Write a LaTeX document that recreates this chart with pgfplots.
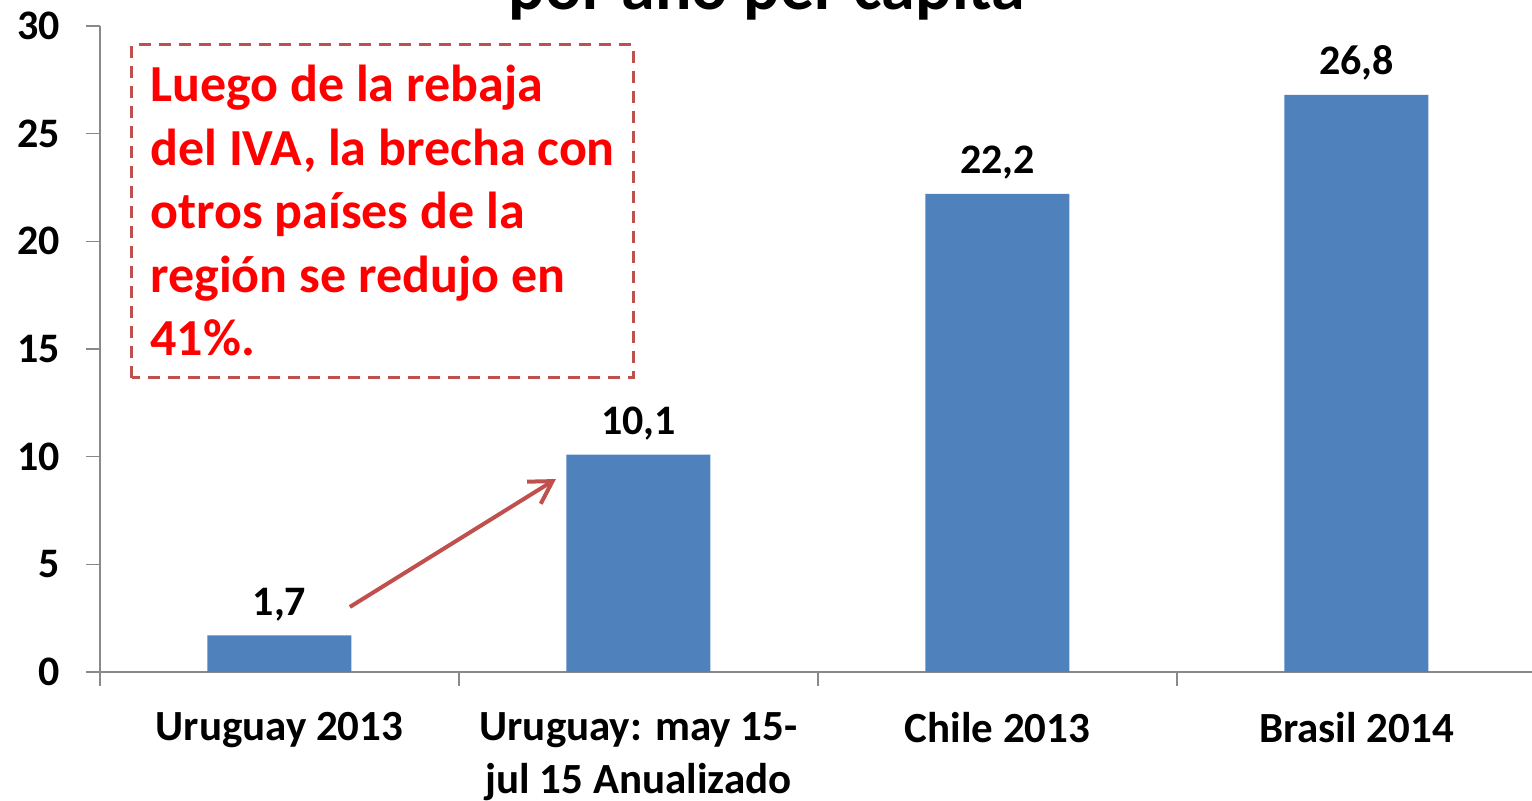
\documentclass[border=0pt]{standalone}
\usepackage{pgfplots}
\pgfplotsset{compat=1.18}
\usepackage{fontspec}
\setmainfont{Carlito}
\usetikzlibrary{arrows.meta}
\definecolor{barblue}{HTML}{4F81BD}
\definecolor{boxred}{HTML}{C0504D}
\definecolor{axgray}{HTML}{898989}
\begin{document}
\begin{tikzpicture}
\begin{axis}[
  at={(0pt,0pt)}, anchor=south west, scale only axis,
  width=716pt, height=323pt,
  xmin=-0.5, xmax=3.489, ymin=0, ymax=30,
  axis x line*=bottom, axis y line*=left,
  axis line style={draw=axgray, line width=0.75pt},
  tick align=outside,
  major tick length=7pt, minor tick length=7pt,
  tick style={draw=axgray, line width=0.75pt},
  xtick={0,1,2,3},
  minor xtick={-0.5,0.5,1.5,2.5},
  major x tick style={draw=none},
  xticklabels={{Uruguay 2013},{Uruguay: may 15-\\jul 15 Anualizado},{Chile 2013},{Brasil 2014}},
  xticklabel style={align=center, anchor=north, inner sep=0pt, font=\bfseries\fontsize{21.5}{26.5}\selectfont, yshift=-13pt},
  ytick={0,5,10,15,20,25,30},
  yticklabel style={anchor=east, inner sep=0pt, font=\bfseries\fontsize{21}{26}\selectfont, xshift=-13pt},
  /pgf/number format/assume math mode=true,
  clip=false,
]
\addplot[ybar, bar width=72pt, fill=barblue, draw=none,
  nodes near coords={\pgfmathprintnumber[use comma,fixed,fixed zerofill,precision=1,assume math mode=true]{\pgfplotspointmeta}},
  nodes near coords style={anchor=base, inner sep=0pt, yshift=10pt, font=\bfseries\fontsize{21}{26}\selectfont, text=black}]
  coordinates {(0,1.7) (1,10.1) (2,22.2) (3,26.8)};
\draw[boxred, line width=2pt, -{Straight Barb[length=11pt,width=13pt]}] (axis cs:0.196,3.02) -- (axis cs:0.770,8.96);
\end{axis}
\draw[boxred, line width=1.5pt, dash pattern=on 6pt off 4pt] (16pt,147pt) rectangle (266.5pt,313.5pt);
\begin{scope}[every node/.style={anchor=base west, inner sep=0pt, text=red, font=\bfseries\fontsize{26}{32}\selectfont}]
\node at (25pt,285pt) {Luego de la rebaja};
\node at (25pt,253pt) {del IVA, la brecha con};
\node at (25pt,221.5pt) {otros países de la};
\node at (25pt,189.5pt) {región se redujo en};
\node at (25pt,158pt) {41\%.};
\end{scope}
\node[anchor=base, inner sep=0pt, font=\bfseries\fontsize{34}{40}\selectfont] at (333.5pt,331pt) {por año per cápita};
\pgfresetboundingbox
\path[use as bounding box] (-50pt,-64.5pt) rectangle (716pt,336pt);
\end{tikzpicture}
\end{document}
